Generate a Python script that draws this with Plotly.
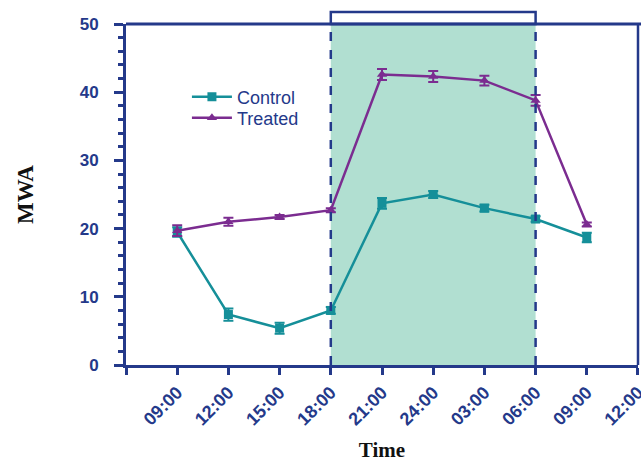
import plotly.graph_objects as go

tick_labels = ["", "09:00", "12:00", "15:00", "18:00", "21:00", "24:00", "03:00", "06:00", "09:00", "12:00"]
positions = [1, 2, 3, 4, 5, 6, 7, 8, 9]
control = [19.5, 7.4, 5.4, 8.0, 23.7, 25.0, 23.0, 21.4, 18.7]
control_err = [0.7, 0.9, 0.8, 0.5, 0.8, 0.5, 0.5, 0.4, 0.7]
treated = [19.7, 21.0, 21.7, 22.7, 42.6, 42.3, 41.7, 38.8, 20.6]
treated_err = [0.8, 0.6, 0.3, 0.3, 0.8, 0.8, 0.7, 0.8, 0.3]
dark_start, dark_end = 4, 8

AX = "#24398a"
TEAL = "#158f99"
PURPLE = "#7b2c90"

fig = go.Figure()
fig.add_trace(go.Scatter(
    x=positions, y=control, name="Control", mode="lines+markers", legend="legend",
    line=dict(color=TEAL, width=2.5),
    marker=dict(symbol="square", size=9, color=TEAL),
    error_y=dict(type="data", array=control_err, color=TEAL, thickness=2, width=5),
))
fig.add_trace(go.Scatter(
    x=positions, y=treated, name="Treated", mode="lines+markers", legend="legend2",
    line=dict(color=PURPLE, width=2.5),
    marker=dict(symbol="triangle-up", size=9, color=PURPLE),
    error_y=dict(type="data", array=treated_err, color=PURPLE, thickness=2, width=5),
))

# dark period shading
fig.add_shape(type="rect", xref="x", yref="y", x0=dark_start, x1=dark_end, y0=0, y1=50,
              fillcolor="#b1dfd1", line=dict(width=0), layer="below")
for xv in (dark_start, dark_end):
    fig.add_shape(type="line", xref="x", yref="y", x0=xv, x1=xv, y0=0, y1=50,
                  line=dict(color=AX, width=2.5, dash="dash"), layer="above")
fig.add_shape(type="rect", xref="x", yref="paper", x0=dark_start, x1=dark_end, y0=1.0, y1=1.035,
              fillcolor="white", line=dict(color=AX, width=2.5), layer="above")
# right border
fig.add_shape(type="line", xref="paper", yref="paper", x0=1, x1=1, y0=0, y1=1,
              line=dict(color=AX, width=2.5))
# top border line across
fig.add_shape(type="line", xref="paper", yref="paper", x0=0, x1=1.01, y0=1, y1=1,
              line=dict(color=AX, width=3))

legend_font = dict(family="Arial, Liberation Sans", size=18, color=AX)
fig.update_layout(
    width=641, height=462,
    margin=dict(l=126, r=3, t=24, b=97, autoexpand=False),
    plot_bgcolor="white", paper_bgcolor="white",
    showlegend=True,
    legend=dict(x=0.119, y=0.786, xanchor="left", yanchor="middle", font=legend_font,
                bgcolor="rgba(0,0,0,0)", itemwidth=40),
    legend2=dict(x=0.119, y=0.724, xanchor="left", yanchor="middle", font=legend_font,
                 bgcolor="rgba(0,0,0,0)", itemwidth=40),
    xaxis=dict(
        range=[-0.0001, 10.0001], tickmode="array", tickvals=list(range(11)), ticktext=tick_labels,
        tickangle=-45, showgrid=False, zeroline=False, automargin=False,
        ticklabeloverflow="allow",
        showline=True, linecolor=AX, linewidth=3, mirror=False,
        ticks="outside", ticklen=7, tickwidth=3, tickcolor=AX,
        tickfont=dict(family="Arial, Liberation Sans", size=18, color=AX, weight="bold"),
        title=dict(text="<b>Time</b>", font=dict(family="Times New Roman, Liberation Serif", size=21, color="#111"),
                   standoff=20),
    ),
    yaxis=dict(
        range=[0, 50], tickvals=[0, 10, 20, 30, 40, 50], showgrid=False, zeroline=False,
        automargin=False,
        showline=True, linecolor=AX, linewidth=3,
        ticks="outside", ticklen=9, tickwidth=3, tickcolor=AX,
        minor=dict(dtick=2, ticks="outside", ticklen=5, tickwidth=3, tickcolor=AX),
        tickfont=dict(family="Arial, Liberation Sans", size=17, color=AX, weight="bold"),
        ticklabelstandoff=12,
        title=dict(text="<b>MWA</b>", font=dict(family="Times New Roman, Liberation Serif", size=23, color="#111"),
                   standoff=40),
    ),
)

fig.write_html("out.html", config={"responsive": False, "displayModeBar": False},
               post_script="document.body.style.margin='0';document.body.style.overflow='hidden';")
